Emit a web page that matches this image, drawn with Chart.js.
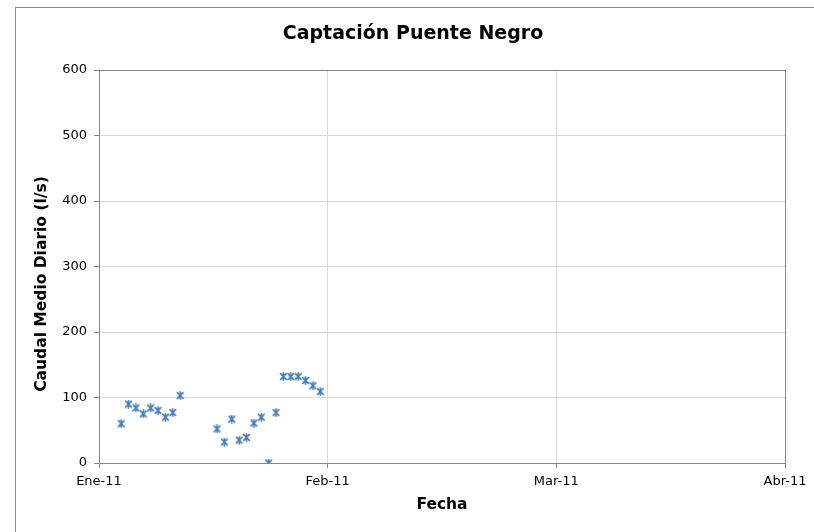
<!DOCTYPE html>
<html>
<head>
<meta charset="utf-8">
<title>Captación Puente Negro</title>
<script src="https://cdn.jsdelivr.net/npm/chart.js@4"></script>
<style>
  html, body { margin: 0; padding: 0; background: #fff; overflow: hidden; }
  #wrap { position: relative; width: 814px; height: 532px; }
</style>
</head>
<body>
<div id="wrap"><canvas id="chart" width="814" height="532"></canvas></div>
<script>
/* datos: días de enero 2011 y caudal medio diario (l/s) */
const diasEnero = [4, 5, 6, 7, 8, 9, 10, 11, 12,
                   17, 18, 19, 20, 21, 22, 23, 24, 25, 26, 27, 28, 29, 30, 31];
const caudal    = [60, 90, 84, 75, 84, 80, 70, 77, 103,
                   52, 32, 67, 35, 39, 61, 70, 0, 77, 132, 132, 132, 126, 118, 109];
const etiquetasX = ['Ene-11', 'Feb-11', 'Mar-11', 'Abr-11'];
const posTicksX  = [0, 31, 62, 93];   // días desde 1-ene-2011
const ticksY     = [0, 100, 200, 300, 400, 500, 600];

const FONT = "Verdana, 'DejaVu Sans', sans-serif";
const AXIS = '#868686';
const GRID = '#d9d9d9';
const BLUE = '#4a7ebb';

Chart.defaults.font.family = FONT;
Chart.defaults.color = '#000';

// marcador tipo Excel: aspa con trazo vertical
function makeStar() {
  const c = document.createElement('canvas');
  c.width = 9; c.height = 9;
  const g = c.getContext('2d');
  g.strokeStyle = BLUE;
  g.lineWidth = 1.7;
  g.beginPath();
  g.moveTo(1.2, 1.2); g.lineTo(7.8, 7.8);
  g.moveTo(7.8, 1.2); g.lineTo(1.2, 7.8);
  g.moveTo(4.5, 0.3); g.lineTo(4.5, 8.7);
  g.stroke();
  return c;
}

const framePlugin = {
  id: 'frame',
  beforeDraw(chart) {
    const ctx = chart.ctx;
    ctx.save();
    ctx.strokeStyle = '#8c8c8c';
    ctx.lineWidth = 1;
    ctx.strokeRect(15.5, 7.5, 1000, 1000);
    ctx.restore();
  },
  beforeDatasetsDraw(chart) {
    const a = chart.chartArea, ctx = chart.ctx;
    ctx.save();
    ctx.strokeStyle = AXIS;
    ctx.lineWidth = 1;
    ctx.strokeRect(Math.round(a.left) + 0.5, Math.round(a.top) + 0.5,
                   Math.round(a.right - a.left), Math.round(a.bottom - a.top));
    ctx.restore();
  },
  afterDraw(chart) {
    // título del eje Y (desplazado como en el original)
    const ctx = chart.ctx;
    ctx.save();
    ctx.translate(42, 284);
    ctx.rotate(-Math.PI / 2);
    ctx.font = 'bold 15.5px ' + FONT;
    ctx.fillStyle = '#000';
    ctx.textAlign = 'center';
    ctx.textBaseline = 'middle';
    ctx.fillText('Caudal Medio Diario (l/s)', 0, 0);
    ctx.restore();
  }
};

new Chart(document.getElementById('chart'), {
  type: 'scatter',
  data: {
    datasets: [{
      label: 'Caudal',
      data: diasEnero.map((d, i) => ({ x: d - 1, y: caudal[i] })),
      pointStyle: makeStar(),
      pointRadius: 4,
      showLine: false,
    }]
  },
  options: {
    responsive: false,
    animation: false,
    layout: { padding: { left: 41, right: 29, top: 0, bottom: 0 } },
    plugins: {
      legend: { display: false },
      tooltip: { enabled: false },
      title: {
        display: true,
        text: 'Captación Puente Negro',
        font: { size: 19, weight: 'bold', family: FONT },
        color: '#000',
        padding: { top: 23, bottom: 24.2 }
      }
    },
    scales: {
      x: {
        type: 'linear',
        min: posTicksX[0], max: posTicksX[posTicksX.length - 1],
        afterBuildTicks: s => { s.ticks = posTicksX.map(v => ({ value: v })); },
        afterFit: s => { s.height = 69; },
        ticks: {
          autoSkip: false, maxRotation: 0, padding: 6,
          font: { size: 13 }, color: '#000',
          callback: (v) => etiquetasX[posTicksX.indexOf(v)]
        },
        grid: { color: GRID, tickColor: AXIS, tickLength: 5 },
        border: { display: false },
        title: {
          display: true, text: 'Fecha',
          font: { size: 15.5, weight: 'bold' }, color: '#000',
          padding: { top: 0, bottom: 17.7 }
        }
      },
      y: {
        min: 0, max: 600,
        afterBuildTicks: s => { s.ticks = ticksY.map(v => ({ value: v })); },
        afterFit: s => { s.width = 58; },
        ticks: { padding: 7, font: { size: 13 }, color: '#000' },
        grid: { color: GRID, tickColor: AXIS, tickLength: 5 },
        border: { display: false }
      }
    }
  },
  plugins: [framePlugin]
});
</script>
</body>
</html>
